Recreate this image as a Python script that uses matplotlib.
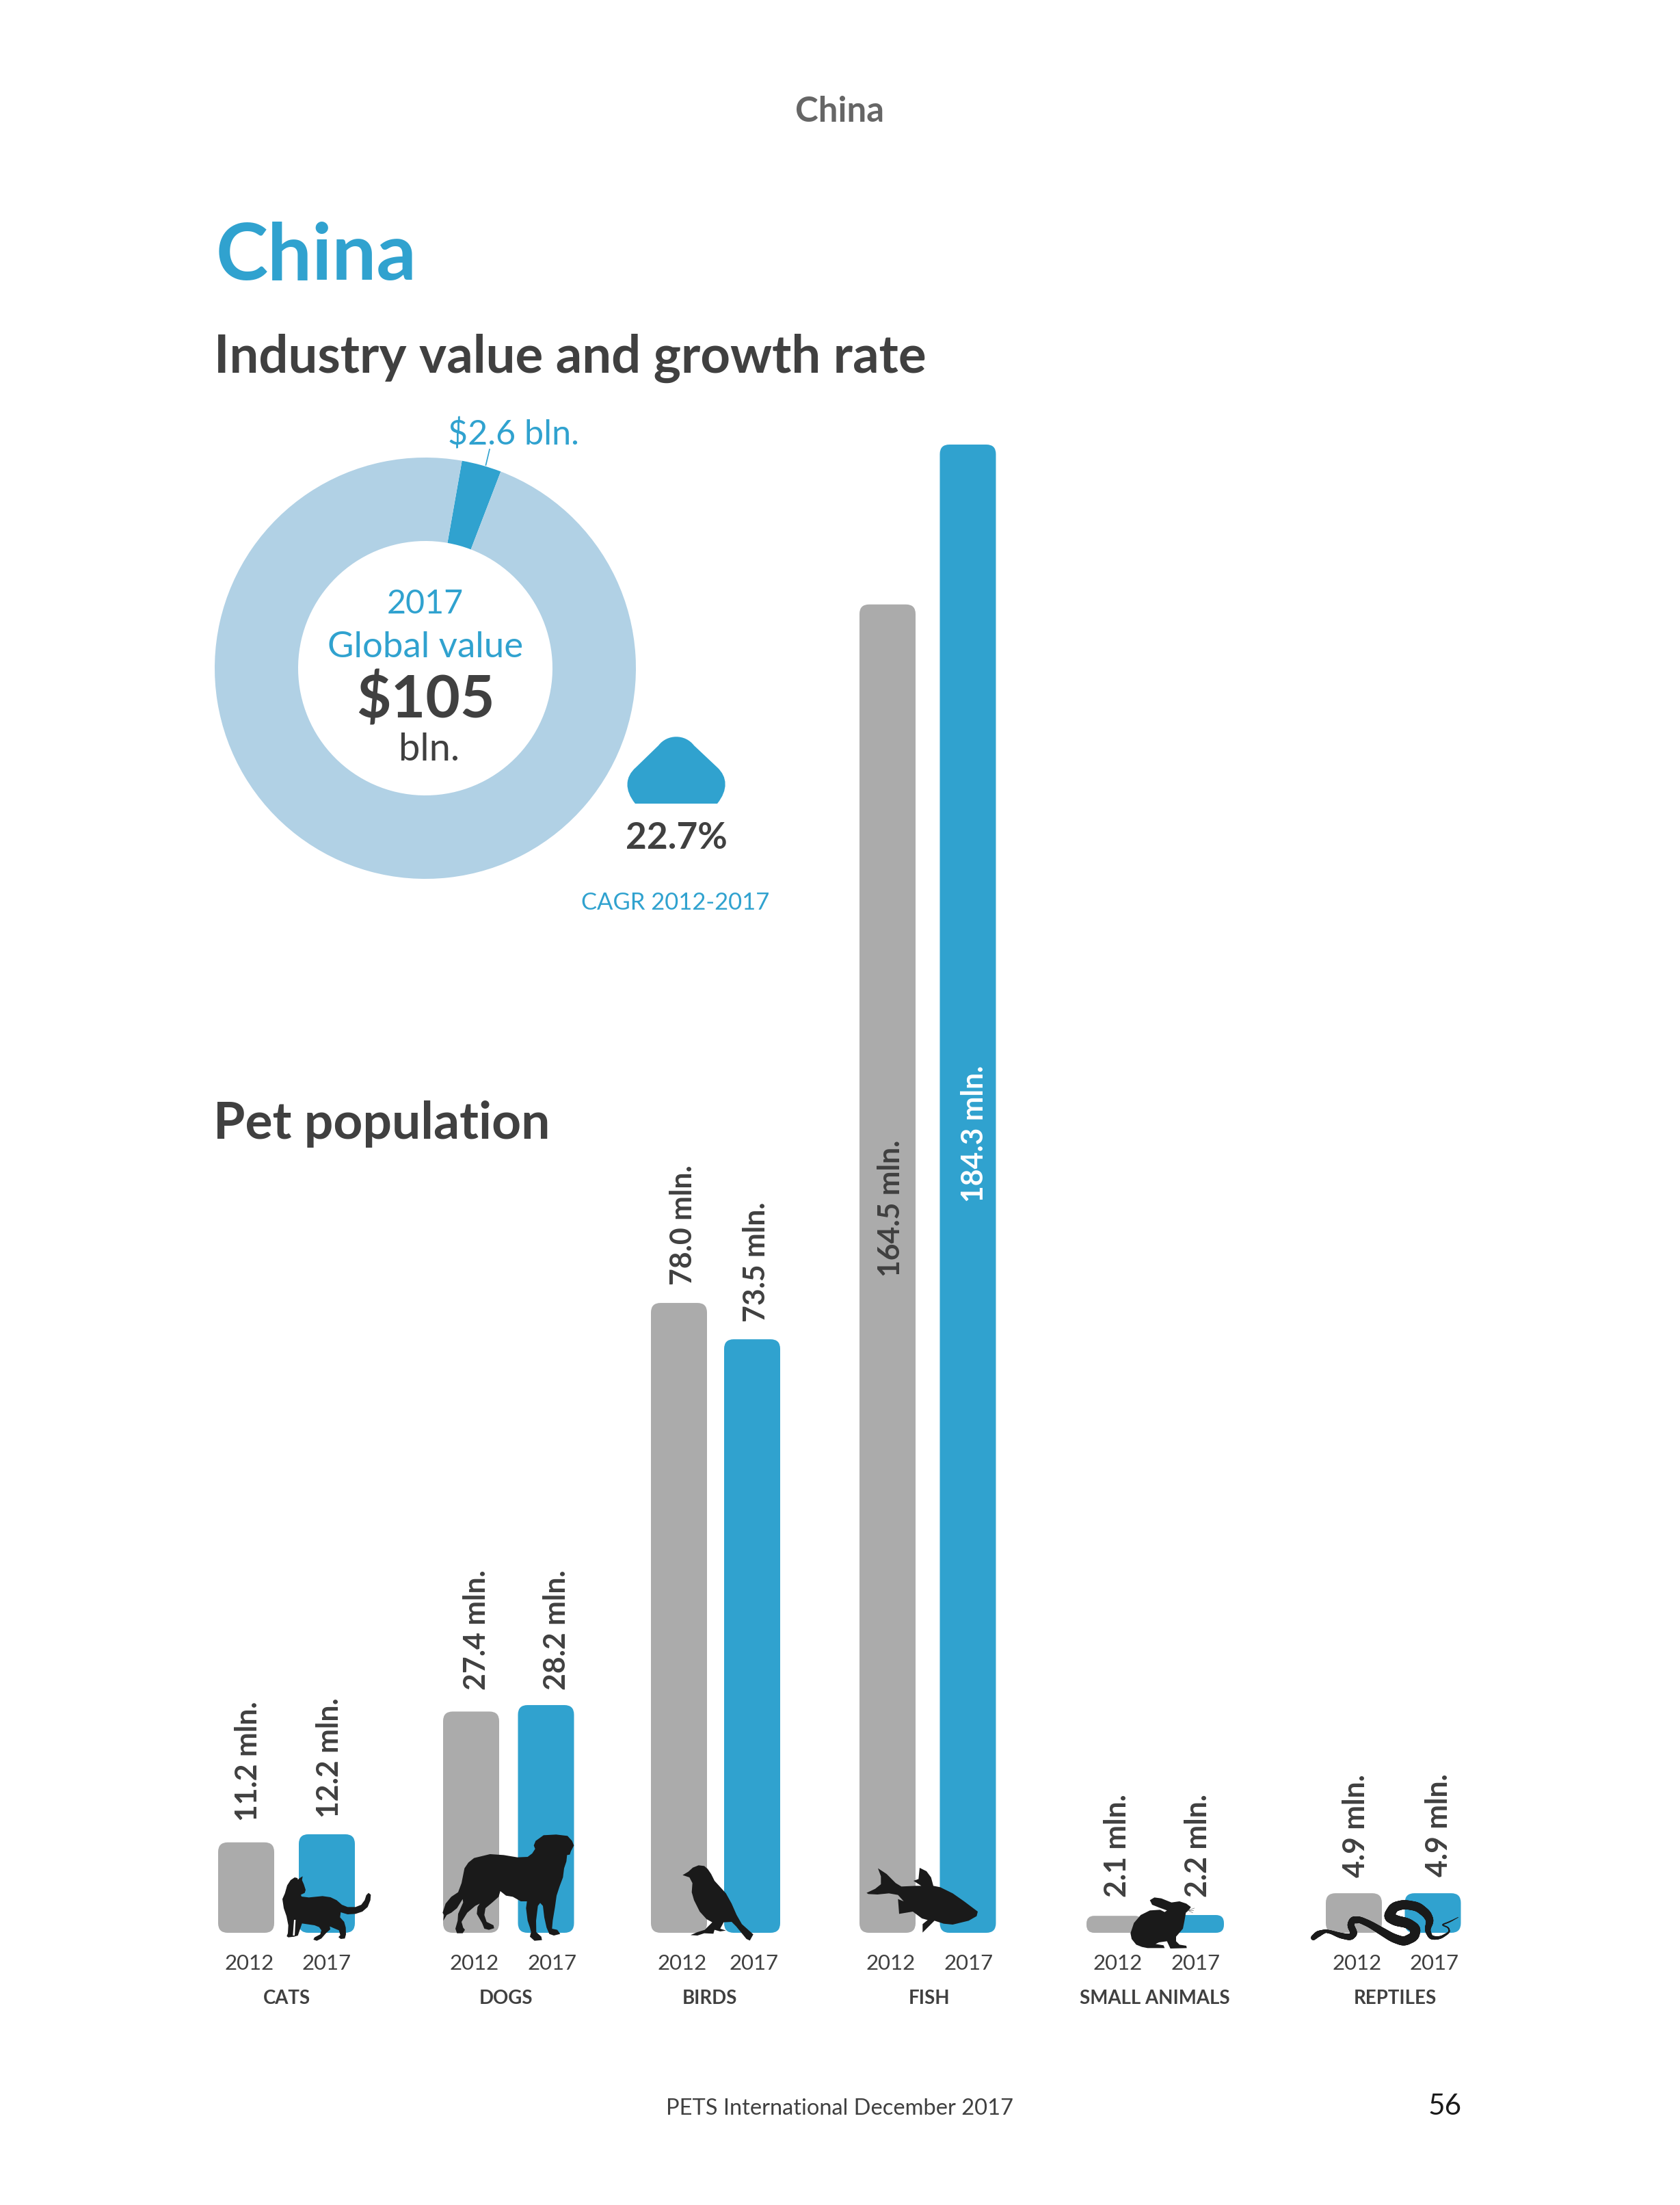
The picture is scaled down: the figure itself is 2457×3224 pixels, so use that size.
import numpy as np
import matplotlib
matplotlib.use("Agg")
import matplotlib.pyplot as plt
from matplotlib.collections import LineCollection
from matplotlib.font_manager import FontProperties
from matplotlib.patches import FancyBboxPatch, PathPatch
from matplotlib.path import Path
from matplotlib.textpath import TextPath

W, H = 2457, 3224
BLUE = "#30a2cf"
LIGHT = "#b1d1e5"
GREY = "#ababab"
DARK = "#404040"
BLACK = "#1a1a1a"
FONT = "Lato"
plt.rcParams["font.family"] = [FONT, "DejaVu Sans"]

# data
categories = ["CATS", "DOGS", "BIRDS", "FISH", "SMALL ANIMALS", "REPTILES"]
years = ["2012", "2017"]
pop_2012 = [11.2, 27.4, 78.0, 164.5, 2.1, 4.9]
pop_2017 = [12.2, 28.2, 73.5, 184.3, 2.2, 4.9]
donut_share = [3.2, 101.8]  # drawn slice is a bit wider than 2.6/105

# layout, in page pixels
bar_x_2012 = [360, 689, 993, 1298, 1630, 1980]
bar_x_2017 = [478, 798.5, 1100, 1415.5, 1749, 2095.5]
year_x_2012 = [365, 694, 998, 1303, 1635, 1985]
year_x_2017 = [478, 808, 1103, 1417, 1749, 2098]
cat_x = [419, 740, 1038, 1359, 1689, 2040]
label_x_2012 = [363, 697, 999, 1303, 1634, 1983]
label_x_2017 = [482, 814, 1106, 1425, 1752, 2104]
gap_2012 = [31, 31, 26, -983, 27, 23]
gap_2017 = [24, 22, 25, -1108, 26, 24]
BASE_Y, TOP_Y = 2826, 650
BAR_W = 82


def fit(s, width, weight="normal"):
    # font size in points that makes the string the given number of pixels wide
    tp = TextPath((0, 0), s, size=100, prop=FontProperties(family=FONT, weight=weight))
    box = tp.get_extents()
    return 100 * width / box.width * 0.72


fig = plt.figure(figsize=(W / 100, H / 100), dpi=100, facecolor="white")

page = fig.add_axes([0, 0, 1, 1], zorder=1)
page.set_xlim(0, W)
page.set_ylim(H, 0)
page.axis("off")


def txt(x, y, s, width, color=DARK, weight="normal", ha="center"):
    page.text(x, y, s, fontsize=fit(s, width, weight), color=color, weight=weight, ha=ha, va="baseline")


txt(1228, 178, "China", 125, "#666666", "bold")
txt(316, 409, "China", 283, BLUE, "bold", ha="left")
txt(313, 545, "Industry value and growth rate", 1034, DARK, "bold", ha="left")
txt(312, 1665, "Pet population", 482, DARK, "bold", ha="left")
txt(751, 651, "$2.6 bln.", 187, BLUE)
page.plot([716, 710.5], [657, 680], color=BLUE, lw=1.2)
txt(622, 897, "2017", 108, BLUE)
txt(622, 961, "Global value", 281, BLUE)
txt(622, 1050, "$105", 195, DARK, "bold")
txt(628, 1112, "bln.", 82, DARK)
txt(989, 1241, "22.7%", 145, DARK, "bold")
txt(988, 1330, "CAGR 2012-2017", 273, BLUE)
txt(1228, 3092, "PETS International December 2017", 504, DARK)
txt(2113, 3092, "56", 45, BLACK)
for x, c in zip(cat_x, categories):
    page.text(x, 2930, c, fontsize=fit("SMALL ANIMALS", 218, "bold"), color=DARK,
              weight="bold", ha="center", va="baseline")

# up arrow
verts = [(929, 1175), (913, 1155), (914, 1136), (930, 1122), (963, 1090), (976, 1073), (1002, 1073),
         (1015, 1090), (1049, 1122), (1064, 1136), (1065, 1155), (1049, 1175), (929, 1175)]
codes = [Path.MOVETO, Path.CURVE4, Path.CURVE4, Path.CURVE4, Path.LINETO, Path.CURVE4, Path.CURVE4,
         Path.CURVE4, Path.LINETO, Path.CURVE4, Path.CURVE4, Path.CURVE4, Path.CLOSEPOLY]
page.add_patch(PathPatch(Path(verts, codes), fc=BLUE, ec="none"))

# donut
R_OUT, R_IN = 308, 186
cx, cy = 622, 977
don = fig.add_axes([(cx - R_OUT) / W, (H - cy - R_OUT) / H, 2 * R_OUT / W, 2 * R_OUT / H], zorder=2)
don.pie(donut_share, colors=[BLUE, LIGHT], startangle=69, radius=1,
        wedgeprops=dict(width=(R_OUT - R_IN) / R_OUT, edgecolor="none"))
don.set_xlim(-1, 1)
don.set_ylim(-1, 1)

# bars, y in millions
ax = fig.add_axes([0, (H - BASE_Y) / H, 1, (BASE_Y - TOP_Y) / H], zorder=2)
ax.patch.set_alpha(0)
ax.set_xlim(0, W)
ax.set_ylim(0, max(pop_2017))
for s in ax.spines.values():
    s.set_visible(False)
ax.yaxis.set_visible(False)
px_per_mln = (BASE_Y - TOP_Y) / max(pop_2017)


def round_bars(bars, color):
    for b in bars:
        h = b.get_height()
        r = min(14, h * px_per_mln * 0.45)
        ax.add_patch(FancyBboxPatch((b.get_x(), 0), b.get_width(), h,
                                    boxstyle=f"round,pad=0,rounding_size={r}",
                                    mutation_aspect=1 / px_per_mln, fc=color, ec="none"))
        b.set_visible(False)


round_bars(ax.bar(bar_x_2012, pop_2012, width=BAR_W), GREY)
round_bars(ax.bar(bar_x_2017, pop_2017, width=BAR_W), BLUE)

ticks = year_x_2012 + year_x_2017
ax.set_xticks(ticks)
ax.set_xticklabels([years[0]] * 6 + [years[1]] * 6, fontsize=fit("2012", 69), color=DARK)
ax.tick_params(axis="x", length=0, pad=22)

label_size = fit("164.5 mln.", 196, "bold")
for vals, lx, gaps in [(pop_2012, label_x_2012, gap_2012), (pop_2017, label_x_2017, gap_2017)]:
    for v, x, g in zip(vals, lx, gaps):
        c = "white" if v == max(pop_2017) else DARK
        ax.annotate(f"{v:.1f} mln.", (x, v), xytext=(0, g * 0.72), textcoords="offset points",
                    rotation=90, ha="center", va="bottom", fontsize=label_size, weight="bold", color=c)

top = fig.add_axes([0, 0, 1, 1], zorder=3)
top.patch.set_alpha(0)
top.set_xlim(0, W)
top.set_ylim(H, 0)
top.axis("off")


def shape(ox, oy, pts, color=BLACK):
    p = np.array(pts, dtype=float) / 3 + [ox, oy]
    top.fill(p[:, 0], p[:, 1], color=color, lw=0)


cat = [(24, 125), (35, 100), (45, 65), (60, 42), (78, 30), (90, 33), (92, 40), (100, 33), (113, 25), (110, 42),
       (118, 60), (126, 85), (122, 98), (105, 106), (108, 114), (140, 118), (200, 112), (235, 117), (262, 130),
       (285, 150), (310, 160), (345, 160), (370, 150), (385, 130), (392, 108), (402, 98), (412, 106), (410, 130),
       (398, 160), (375, 180), (345, 190), (310, 192), (280, 183), (277, 205), (295, 225), (302, 250), (303, 280),
       (298, 298), (280, 300), (270, 292), (278, 283), (272, 262), (255, 255), (232, 245), (234, 258), (215, 275),
       (195, 298), (175, 308), (160, 303), (165, 293), (190, 280), (195, 262), (185, 248), (165, 240), (110, 232),
       (92, 285), (75, 290), (50, 293), (43, 288), (48, 275), (50, 240), (42, 200), (30, 165)]
shape(405, 2735, cat)
shape(405, 2735, [(75, 216), (82, 216), (78, 285), (70, 285)], "white")

dog = [(22, 365), (35, 325), (60, 295), (90, 275), (105, 235), (118, 170), (135, 145), (160, 125), (230, 108),
       (290, 112), (350, 122), (395, 120), (415, 105), (428, 85), (422, 70), (430, 50), (465, 25), (520, 22),
       (570, 28), (590, 50), (598, 70), (585, 95), (580, 110), (568, 112), (565, 140), (555, 170), (550, 210),
       (535, 250), (522, 290), (515, 340), (505, 400), (502, 435), (525, 440), (538, 458), (510, 465), (490, 458),
       (478, 430), (468, 385), (462, 335), (450, 322), (440, 335), (432, 400), (433, 450), (455, 470), (458, 485),
       (425, 488), (405, 470), (410, 450), (405, 430), (395, 400), (388, 345), (392, 315), (365, 315), (330, 295),
       (300, 290), (275, 270), (268, 295), (240, 320), (210, 345), (205, 375), (215, 405), (245, 420), (248, 433),
       (225, 440), (205, 435), (195, 410), (172, 370), (175, 340), (185, 325), (165, 335), (130, 365), (105, 405),
       (112, 430), (120, 440), (110, 455), (85, 455), (78, 435), (88, 400), (90, 370), (112, 320), (110, 305),
       (85, 345), (60, 365), (40, 375), (25, 400), (28, 375)]
shape(640, 2675, dog)

bird = [(25, 65), (50, 50), (70, 32), (95, 22), (120, 25), (135, 38), (150, 60), (165, 90), (215, 145), (240, 190),
        (262, 240), (285, 280), (335, 325), (320, 352), (305, 345), (260, 290), (240, 270), (205, 272), (190, 300),
        (215, 308), (190, 312), (165, 305), (160, 322), (120, 320), (90, 330), (60, 328), (90, 315), (122, 305),
        (155, 272), (130, 258), (100, 225), (75, 175), (65, 140), (68, 100), (55, 75)]
shape(990, 2720, bird)

fish = [(22, 143), (60, 125), (85, 105), (85, 70), (72, 35), (110, 60), (150, 100), (175, 115), (240, 112),
        (262, 112), (228, 90), (250, 82), (255, 33), (285, 48), (305, 75), (315, 112), (345, 118), (400, 145),
        (450, 180), (510, 225), (505, 245), (470, 265), (400, 282), (360, 278), (320, 265), (295, 290), (268, 317),
        (268, 280), (290, 262), (265, 255), (225, 225), (165, 235), (160, 170), (185, 180), (160, 152), (120, 145),
        (70, 150), (30, 148)]
shape(1260, 2720, fish)

rabbit = [(110, 40), (130, 28), (160, 32), (205, 50), (240, 45), (270, 55), (290, 70), (280, 85), (268, 95),
          (262, 130), (255, 165), (225, 200), (225, 220), (240, 235), (270, 240), (272, 250), (200, 252), (185, 220),
          (150, 225), (135, 232), (170, 238), (175, 250), (100, 250), (75, 245), (50, 235), (30, 210), (25, 185),
          (40, 140), (70, 105), (110, 85), (155, 82), (175, 92), (185, 85), (150, 72), (120, 60)]
shape(1645, 2765, rabbit)
for ex, ey in [(305, 75), (300, 85), (298, 95)]:
    top.plot([1645 + 278 / 3, 1645 + ex / 3], [2765 + 85 / 3, 2765 + ey / 3], color="#777777", lw=0.5)

# snake: centre line with changing thickness
snake = np.array([(32, 205), (52, 188), (85, 175), (110, 180), (150, 195), (195, 203), (212, 185), (195, 150),
                  (205, 125), (235, 125), (280, 145), (330, 175), (380, 205), (430, 222), (475, 200), (482, 165),
                  (445, 140), (395, 130), (362, 112), (385, 70), (430, 58), (490, 68), (530, 100), (545, 130),
                  (532, 170), (548, 205), (590, 205), (630, 180), (625, 160), (595, 148), (630, 135), (668, 115)],
                 dtype=float)
thick = np.array([22, 26, 14, 16, 24, 28, 30, 30, 28, 28, 30, 34, 38, 40, 42, 44, 44, 46, 46, 42, 40, 40, 38, 32,
                  24, 18, 12, 7, 5, 5, 5, 2], dtype=float)
t = np.linspace(0, len(snake) - 1, 400)
sx = np.interp(t, np.arange(len(snake)), snake[:, 0])
sy = np.interp(t, np.arange(len(snake)), snake[:, 1])
kernel = np.ones(9) / 9
sx = np.r_[sx[:4], np.convolve(sx, kernel, mode="valid"), sx[-4:]]
sy = np.r_[sy[:4], np.convolve(sy, kernel, mode="valid"), sy[-4:]]
sw = np.interp(t, np.arange(len(snake)), thick)
pts = np.c_[1910 + sx / 3, 2765 + sy / 3]
segs = np.stack([pts[:-1], pts[1:]], axis=1)
top.add_collection(LineCollection(segs, linewidths=sw[:-1] / 3 * 0.72, colors=BLACK, capstyle="round"))

fig.savefig("out.png", dpi=100, facecolor="white")
